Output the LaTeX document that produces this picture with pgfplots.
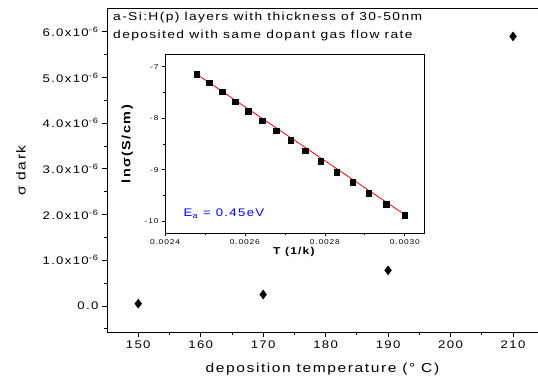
\documentclass[border=0pt]{standalone}
\usepackage{pgfplots}
\pgfplotsset{compat=1.18}
\usepackage{fontspec}
\setmainfont{Liberation Sans}[FakeStretch=1.2, LetterSpace=12]
\begin{document}
\begin{tikzpicture}
\useasboundingbox (-107pt,-55pt) rectangle (431pt,332pt);
\begin{axis}[
  at={(0pt,0pt)}, anchor=south west,
  scale only axis, width=431pt, height=323pt,
  xmin=145, xmax=214, ymin=-0.57, ymax=6.5,
  axis x line*=bottom, axis y line*=left,
  axis line style={-, line width=0.9pt},
  tick align=outside, tick style={black, line width=0.8pt},
  major tick length=5pt, minor tick length=3pt,
  xtick={150,160,...,210}, minor xtick={155,165,...,205},
  ytick={0,1,...,6}, minor ytick={-0.5,0.5,1.5,...,5.5},
  yticklabels={0.0,1.0x10\textsuperscript{-6},2.0x10\textsuperscript{-6},3.0x10\textsuperscript{-6},4.0x10\textsuperscript{-6},5.0x10\textsuperscript{-6},6.0x10\textsuperscript{-6}},
  ticklabel style={font=\fontsize{11}{12}\selectfont},
  /pgf/number format/assume math mode=true,
  xlabel={deposition temperature (° C)},
  ylabel={σ dark},
  xlabel style={font=\fontsize{13}{14}\selectfont, yshift=-8pt},
  ylabel style={font=\fontsize{13}{14}\selectfont, yshift=10pt},
  clip=false,
]
\addplot[only marks, mark=diamond*, mark size=4.5pt, black] coordinates {
  (150,0.05) (170,0.25) (190,0.78) (210,5.9)
};
\draw[line width=1pt] (rel axis cs:0,1) -- (rel axis cs:1,1);
\end{axis}
\node[anchor=north west, align=left, font=\fontsize{11.5}{18}\selectfont, inner sep=0pt] at (6pt,320pt)
  {a-Si:H(p) layers with thickness of 30-50nm\\deposited with same dopant gas flow rate};
\begin{axis}[
  at={(58pt,99pt)}, anchor=south west,
  scale only axis, width=259pt, height=179pt,
  axis background/.style={fill=white},
  xmin=0.0024, xmax=0.003048, ymin=-10.23, ymax=-6.75,
  axis line style={line width=0.9pt},
  tick align=outside, tick style={black, line width=0.7pt},
  major tick length=3pt, minor tick length=2pt,
  xtick={0.0024,0.0026,0.0028,0.0030}, minor xtick={0.0025,0.0027,0.0029},
  xticklabels={0.0024,0.0026,0.0028,0.0030},
  scaled x ticks=false,
  ytick={-10,-9,-8,-7}, minor ytick={-9.5,-8.5,-7.5},
  yticklabels={-10,-9,-8,-7},
  xtick pos=bottom, ytick pos=left,
  ticklabel style={font=\fontsize{7}{8}\selectfont},
  /pgf/number format/assume math mode=true,
  xlabel={\textbf{T (1/k)}}, ylabel={\textbf{lnσ(S/cm)}},
  xlabel style={font=\fontsize{10}{11}\selectfont, yshift=4pt},
  ylabel style={font=\fontsize{12}{13}\selectfont, yshift=5pt},
]
\addplot[red, line width=0.8pt] coordinates {(0.002475,-7.12) (0.003005,-9.90)};
\addplot[only marks, mark=square*, mark size=2.8pt, black] coordinates {
  (0.002479,-7.14) (0.002510,-7.31) (0.002543,-7.48) (0.002575,-7.68)
  (0.002608,-7.86) (0.002643,-8.05) (0.002678,-8.24) (0.002714,-8.43)
  (0.002751,-8.63) (0.002790,-8.83) (0.002830,-9.05) (0.002870,-9.24)
  (0.002910,-9.46) (0.002954,-9.67) (0.003000,-9.88)
};
\node[anchor=west, text=blue, font=\fontsize{11}{12}\selectfont] at (axis cs:0.002438,-9.85) {E\textsubscript{a} = 0.45eV};
\end{axis}
\end{tikzpicture}
\end{document}
